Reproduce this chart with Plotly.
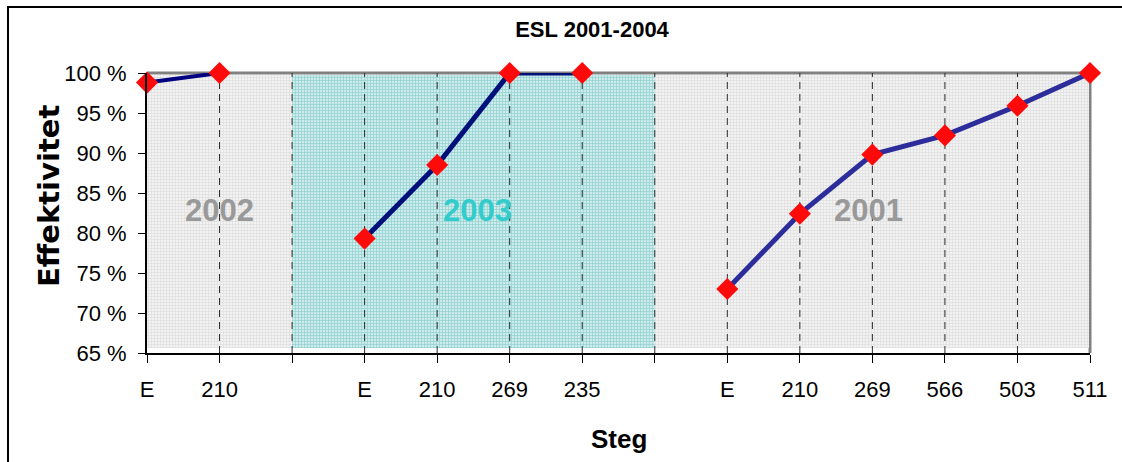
import plotly.graph_objects as go

# Efficiency per step, one group per year (shown in this order along the axis)
years = ["2002", "2003", "2001"]
steps_2002 = ["E", "210"]
steps_2003 = ["E", "210", "269", "235"]
steps_2001 = ["E", "210", "269", "566", "503", "511"]
eff_2002 = [98.8, 100.0]
eff_2003 = [79.3, 88.5, 100.0, 100.0]
eff_2001 = [73.0, 82.4, 89.8, 92.2, 95.9, 100.0]

y_min, y_max, y_step = 65, 100, 5

FONT = "Liberation Sans Narrow, Arial Narrow, Liberation Sans, Arial, sans-serif"

# Lay the groups out on one category axis with an empty slot between groups
groups = [steps_2002, steps_2003, steps_2001]
values = [eff_2002, eff_2003, eff_2001]
tick_text, positions = [], []
pos = 0
for i, steps in enumerate(groups):
    if i > 0:
        tick_text.append("")
        pos += 1
    positions.append(list(range(pos, pos + len(steps))))
    tick_text.extend(steps)
    pos += len(steps)
x_max = len(tick_text) - 1

# Background bands: each group owns the span up to its neighbouring gap slots
band_edges = [0]
for p in positions[:-1]:
    band_edges.append(p[-1] + 1)
band_edges.append(x_max)
band_styles = [
    dict(bg="#f2f2f2", fg="#cfcfcf"),
    dict(bg="#cfecec", fg="#5ab9b9"),
    dict(bg="#f2f2f2", fg="#cfcfcf"),
]

fig = go.Figure()

for i, st in enumerate(band_styles):
    x0, x1 = band_edges[i], band_edges[i + 1]
    if i == len(band_styles) - 1:
        x1 -= 0.02
    fig.add_trace(go.Bar(
        x=[(x0 + x1) / 2], width=[x1 - x0],
        base=[y_min + 0.6], y=[(y_max - 0.25) - (y_min + 0.6)],
        marker=dict(color=st["bg"], line=dict(width=0),
                    pattern=dict(shape="+", fgcolor=st["fg"], bgcolor=st["bg"],
                                 size=3, solidity=0.45)),
        showlegend=False, hoverinfo="skip",
    ))

# Dashed vertical guides at every category slot
gx, gy = [], []
for k in range(1, x_max):
    gx += [k, k, None]
    gy += [y_min, y_max, None]
fig.add_trace(go.Scatter(x=gx, y=gy, mode="lines",
                         line=dict(color="#2a2a2a", width=1, dash="7px,5px"),
                         showlegend=False, hoverinfo="skip"))

line_styles = [
    dict(color="#000080", width=4),
    dict(color="#00107a", width=5),
    dict(color="#2c2c9a", width=5),
]
for yr, xs, ys, ls in zip(years, positions, values, line_styles):
    fig.add_trace(go.Scatter(
        x=xs, y=ys, mode="lines+markers", name=yr,
        line=ls,
        marker=dict(symbol="diamond", size=17, color="#ff0a0a", line=dict(width=0)),
        cliponaxis=False, showlegend=False,
    ))

# Year labels inside the bands
label_x = [1.0, 4.55, 9.95]
label_colors = ["#999999", "#33cccc", "#999999"]
for yr, lx, lc in zip(years, label_x, label_colors):
    fig.add_annotation(x=lx, y=82.8, text=yr, showarrow=False,
                       xanchor="center", yanchor="middle",
                       font=dict(family=FONT, size=31, color=lc, weight="bold"))

W, H = 1122, 462
ml, mr, mt, mb = 147, 32, 73, 109
pw, ph = W - ml - mr, H - mt - mb

def px_x(v):
    return (v - ml) / pw

def px_y(v):
    return (H - mb - v) / ph

# Gray top/right frame of the plot area and outer chart border
fig.add_shape(type="line", xref="paper", yref="paper", x0=0, x1=1, y0=1, y1=1,
              line=dict(color="#808080", width=3), layer="below")
fig.add_shape(type="line", xref="paper", yref="paper", x0=1, x1=1, y0=0, y1=1,
              line=dict(color="#808080", width=3), layer="below")
fig.add_shape(type="rect", xref="paper", yref="paper",
              x0=px_x(8), x1=px_x(W + 20), y0=px_y(H + 20), y1=px_y(7),
              line=dict(color="#000000", width=2), fillcolor="rgba(0,0,0,0)")

fig.add_annotation(xref="paper", yref="paper", x=px_x(49), y=px_y(196),
                   xanchor="center", yanchor="middle",
                   text="Effektivitet", textangle=-90, showarrow=False,
                   font=dict(family="DejaVu Sans", size=29, color="#000", weight="bold"))
fig.add_annotation(xref="paper", yref="paper", x=px_x(619), y=px_y(439),
                   xanchor="center", yanchor="middle",
                   text="Steg", showarrow=False,
                   font=dict(family=FONT, size=26, color="#000", weight="bold"))

fig.update_layout(
    width=W, height=H,
    margin=dict(l=ml, r=mr, t=mt, b=mb, pad=0),
    paper_bgcolor="white", plot_bgcolor="white",
    barmode="overlay", bargap=0,
    title=dict(text="<b>ESL 2001-2004</b>", x=592 / W, xref="container", xanchor="center",
               y=1 - 29 / H, yref="container", yanchor="middle",
               font=dict(family=FONT, size=22, color="#000")),
    xaxis=dict(range=[0, x_max], tickmode="array", tickvals=list(range(x_max + 1)),
               ticktext=tick_text, showgrid=False, zeroline=False,
               showline=True, linecolor="#000", linewidth=2,
               ticks="outside", ticklen=8, tickcolor="#000", tickwidth=1,
               ticklabelstandoff=8,
               tickfont=dict(family=FONT, size=22, color="#000")),
    yaxis=dict(range=[y_min, y_max], tickmode="linear", tick0=y_min, dtick=y_step,
               ticksuffix=" %", showgrid=False, zeroline=False,
               showline=True, linecolor="#000", linewidth=2,
               ticks="outside", ticklen=7, tickcolor="#000", tickwidth=1,
               ticklabelstandoff=7,
               tickfont=dict(family=FONT, size=22, color="#000")),
)

fig.write_html("out.html")
